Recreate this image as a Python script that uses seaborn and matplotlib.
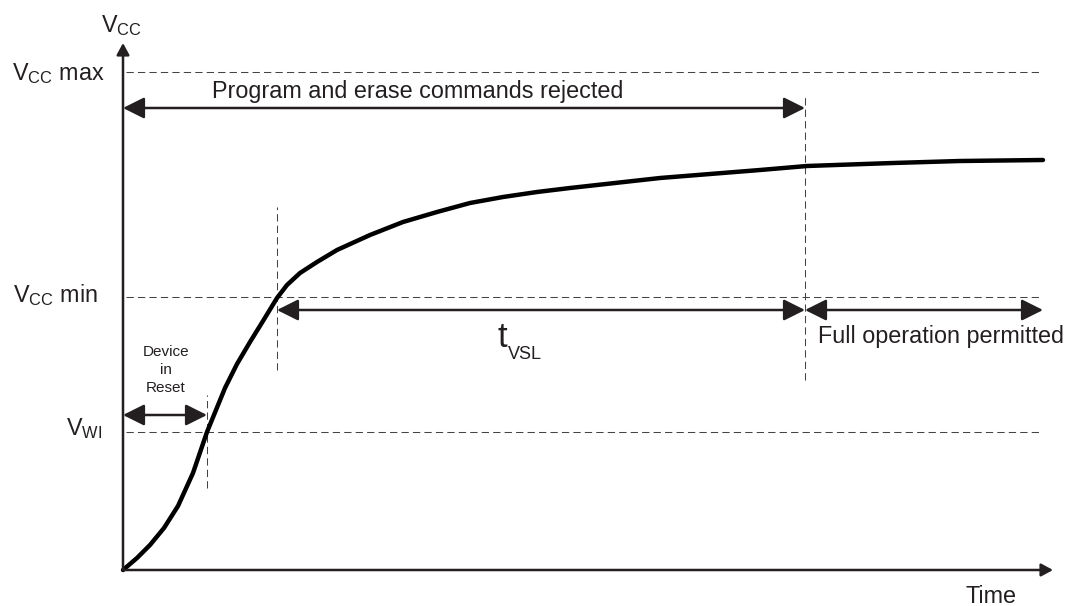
import numpy as np
import pandas as pd
import matplotlib
matplotlib.use('Agg')
import matplotlib.pyplot as plt
import seaborn as sns

sns.set_theme(style='white')
plt.rcParams['font.family'] = ['Liberation Sans', 'DejaVu Sans']
plt.rcParams['mathtext.fontset'] = 'custom'
plt.rcParams['mathtext.rm'] = 'Liberation Sans'
plt.rcParams['mathtext.it'] = 'Liberation Sans'

# Vcc ramp (time, voltage) in drawing units
curve_t = [0, 14, 27, 41, 55, 70, 84, 102, 114, 127, 140, 154, 164, 177, 194, 214, 247,
           280, 314, 347, 380, 414, 447, 537, 637, 684, 770, 837, 920]
curve_v = [0, 12, 25, 42, 64, 97, 138, 182, 206, 228, 249, 272, 285, 297, 308, 320, 335,
           348, 358, 367, 373, 378, 382, 392, 400, 404, 407, 409, 410]

# voltage levels
level_names = [r'$\mathrm{V_{CC}}$ max', r'$\mathrm{V_{CC}}$ min', r'$\mathrm{V_{WI}}$']
level_values = [498, 273, 138]

# time marks: end of reset, reach Vcc min, end of tVSL, end of the drawing
t_reset = 84
t_vmin = 154
t_vsl_end = 682
t_end = 917

df = pd.DataFrame({'time': curve_t, 'vcc': curve_v})

fig = plt.figure(figsize=(10.69, 6.06), dpi=100)
ax = fig.add_axes([0, 0, 1, 1])
ax.set_xlim(-123, 946)
ax.set_ylim(-36, 570)
ax.axis('off')

ink = '#231f20'
dash_kw = dict(color='#444444', lw=0.75, linestyle=(0, (7, 4)))

# dashed level lines
for v in level_values:
    ax.plot([3, t_end], [v, v], **dash_kw)

# dashed time markers
ax.plot([t_reset, t_reset], [82, 175], **dash_kw)
ax.plot([t_vmin, t_vmin], [200, 363], **dash_kw)
ax.plot([t_vsl_end, t_vsl_end], [190, 475], **dash_kw)

# axes with arrows
axis_style = '-|>,head_length=7,head_width=3.8'
ax.annotate('', xy=(0, 527), xytext=(0, 0),
            arrowprops=dict(arrowstyle=axis_style, lw=1.8, color=ink, shrinkA=0, shrinkB=0,
                            mutation_scale=1))
ax.annotate('', xy=(930, 0), xytext=(0, 0),
            arrowprops=dict(arrowstyle=axis_style, lw=1.8, color=ink, shrinkA=0, shrinkB=0,
                            mutation_scale=1))

# Vcc curve
sns.lineplot(data=df, x='time', y='vcc', ax=ax, color='black', lw=3.2, sort=False,
             solid_capstyle='round', solid_joinstyle='round')

# double arrows
span_style = '<|-|>,head_length=13,head_width=6.5'
spans = [(0, t_vsl_end, 462), (t_vmin, t_vsl_end, 260), (t_vsl_end, t_end + 3, 260), (0, t_reset, 155)]
for a, b, v in spans:
    ax.annotate('', xy=(b, v), xytext=(a, v),
                arrowprops=dict(arrowstyle=span_style, lw=1.8, color=ink, shrinkA=0, shrinkB=0,
                                mutation_scale=1))

fs = 16.8
txt = '#231f20'
ax.text(-2, 538, r'$\mathrm{V_{CC}}$', ha='center', va='baseline', fontsize=fs, color=txt)
level_text_x = [-18, -25, -21]
level_text_v = [490, 268, 135]
for name, tx, tv in zip(level_names, level_text_x, level_text_v):
    ax.text(tx, tv, name, ha='right', va='baseline', fontsize=fs, color=txt)

ax.text(295, 472, 'Program and erase commands rejected', ha='center', va='baseline',
        fontsize=fs, color=txt)
ax.text(818, 227, 'Full operation permitted', ha='center', va='baseline', fontsize=fs, color=txt)
ax.text(375, 223, 't', ha='left', va='baseline', fontsize=25, color=txt)
ax.text(385, 211, 'VSL', ha='left', va='baseline', fontsize=13, color=txt)

reset_lines = ['Device', 'in', 'Reset']
reset_v = [214, 196, 178]
for line, v in zip(reset_lines, reset_v):
    ax.text(43, v, line, ha='center', va='baseline', fontsize=11, color=txt)

ax.text(868, -33, 'Time', ha='center', va='baseline', fontsize=fs, color=txt)

fig.savefig('out.png', dpi=100, facecolor='white')
